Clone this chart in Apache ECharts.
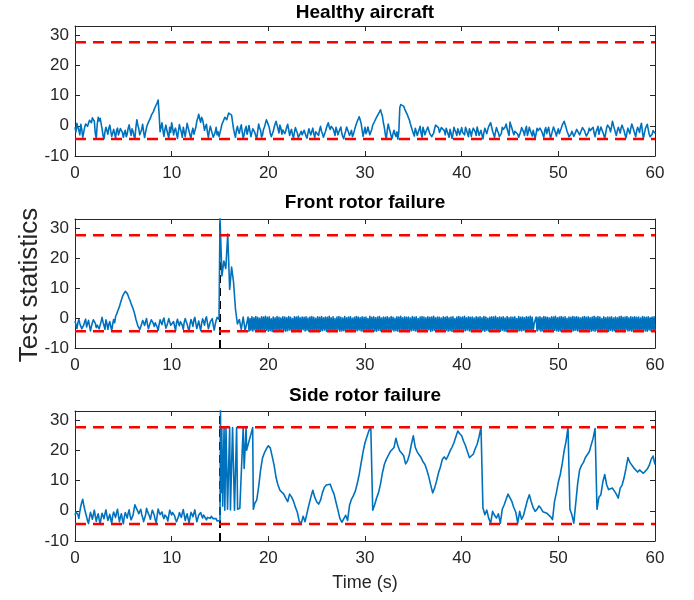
<!DOCTYPE html>
<html>
<head>
<meta charset="utf-8">
<script src="https://cdn.jsdelivr.net/npm/echarts@6.0.0/dist/echarts.min.js"></script>
<style>
  html, body { margin: 0; background: #fff; }
  #chart { width: 694px; height: 600px; }
</style>
</head>
<body>
<div id="chart"></div>
<script>
// panel titles and axis text
var titles = ['Healthy aircraft', 'Front rotor failure', 'Side rotor failure'];
var xTicks = [0, 10, 20, 30, 40, 50, 60];
var yTicks = [-10, 0, 10, 20, 30];
var timeSpan = [0, 60];
var yMax = 33;
var upperLimit = 27.6;
var lowerLimit = -4.4;
var failureTime = 15;

// healthy aircraft, 0..60 s every 0.1 s
var healthy = [
  -0.5,-2.0,0.8,-0.6,-1.5,-3.0,0.5,-1.2,-3.8,-2.2,
  -0.5,0.6,1.2,-0.2,0.8,1.8,2.2,1.0,2.6,2.0,
  1.5,-2.5,-4.2,0.5,2.8,1.6,2.5,0.8,-1.0,-3.2,
  -4.3,-2.0,-0.5,-1.6,-2.8,-0.8,0.2,-1.8,-3.5,-2.4,
  -1.2,-2.6,-4.0,-1.5,-0.8,-3.0,-2.5,-0.9,-0.3,-2.2,
  -3.8,-2.4,-1.5,-3.6,-2.8,-0.8,0.3,-1.6,-3.2,-1.0,
  -1.8,-3.4,-4.1,-0.5,2.0,0.2,-1.0,-3.0,-2.5,-1.2,
  0.5,-2.0,-3.9,-2.2,-0.6,0.4,1.2,1.8,2.5,3.5,
  4.0,4.6,5.5,6.2,6.8,7.6,8.5,4.0,-2.0,-0.5,
  1.0,-1.6,-3.5,-1.2,0.2,-1.5,-2.8,-4.0,-0.5,-2.2,
  1.0,-0.8,-3.0,-1.5,-0.8,-2.6,-4.2,-1.8,0.4,-1.0,
  -2.2,-3.8,-0.5,-2.0,-3.6,-1.4,0.8,-0.6,-1.8,-3.2,
  -4.0,-2.0,-0.8,-2.8,-3.2,-0.5,1.5,2.6,3.8,2.2,
  1.2,2.8,2.0,0.4,-1.5,-0.2,0.5,-2.2,-3.8,-1.6,
  -0.2,-1.4,-2.6,-3.8,-4.3,-2.2,-0.5,-3.0,-2.0,-3.6,
  -3.5,-1.0,0.5,1.2,1.8,2.8,2.5,2.0,3.2,4.2,
  4.8,4.0,3.5,1.2,-1.0,-2.6,-3.8,-1.4,-0.2,-1.8,
  -2.5,-0.8,0.3,-2.0,-4.2,-2.8,-1.2,-0.2,-2.8,-1.6,
  0.1,-1.8,-3.6,-2.2,-1.0,-0.4,-2.2,-3.4,-4.3,-1.8,
  0.6,-0.8,-1.5,-3.8,-3.0,-1.2,-0.4,0.8,2.0,1.2,
  0.8,-0.6,-2.5,-3.6,-4.2,-2.0,-0.5,0.6,1.5,0.2,
  -1.0,-2.4,0.2,-0.8,-2.8,-1.4,-0.8,-2.6,-1.8,-0.4,
  0.5,-1.2,-3.2,-2.0,-1.2,-3.0,-4.0,-2.2,-0.6,-1.6,
  -2.4,-3.8,-4.3,-2.6,-1.8,-3.0,-3.5,-1.5,-2.0,-3.4,
  -4.1,-2.4,-1.0,-2.2,-3.0,-1.8,-0.8,-2.6,-3.8,-2.0,
  -1.5,-2.6,-3.2,-1.4,-0.2,-1.8,-2.6,-3.8,-4.2,-2.0,
  -0.8,0.2,1.0,-0.4,-1.2,-0.2,0.4,-1.0,-2.0,-3.2,
  -0.5,-1.6,-3.0,-2.0,-1.2,-0.4,-2.5,-3.6,-4.3,-2.8,
  -1.8,-0.4,-0.6,-2.2,-3.2,-2.4,-1.5,-3.6,-2.8,-1.6,
  -0.4,0.6,1.5,2.2,3.0,2.0,0.8,-1.4,-3.5,-2.0,
  -0.5,-2.6,-1.8,-0.4,-0.8,-3.0,-2.5,-1.2,0.2,0.8,
  1.5,2.2,2.8,3.4,4.0,4.6,5.3,4.2,3.2,1.0,
  -0.5,-2.8,-4.3,-1.5,0.6,-0.8,-2.0,-3.4,-4.2,-2.6,
  -1.5,-2.8,-3.5,-2.0,-4.4,-2.0,6.0,7.0,7.5,7.2,
  6.5,5.6,5.0,4.2,3.5,2.6,1.8,0.6,-0.5,-1.6,
  -2.0,-3.4,-0.8,-1.8,-3.2,-2.2,-1.2,-0.2,-2.5,-3.8,
  -0.5,-1.6,-3.0,-2.0,-1.5,-0.4,-0.8,-2.6,-2.2,-3.6,
  -4.2,-2.4,-1.0,0.2,0.8,-0.4,-0.6,-2.2,-2.0,-0.6,
  -0.2,-1.2,-1.6,-3.0,-0.8,-1.8,-2.8,-3.8,-1.2,-2.4,
  -4.2,-2.8,-0.5,-1.4,-2.2,-3.2,-1.0,-0.4,-3.0,-1.8,
  -0.6,-2.2,-1.8,-3.0,-0.5,-1.4,-2.5,-3.6,-1.0,-2.0,
  -3.5,-1.8,-0.8,-0.2,-2.0,-3.2,-0.4,-1.6,-3.2,-2.4,
  -1.5,-3.0,-4.3,-2.2,-0.8,-1.8,-2.6,-1.2,-0.2,0.4,
  1.0,-0.4,-1.8,-2.8,-3.8,-2.0,-0.6,-1.6,-2.4,-3.6,
  -4.2,-2.6,-0.5,-1.2,-1.8,-0.4,0.6,-1.0,-2.2,-3.2,
  1.2,0.2,-0.8,-2.0,-3.0,-1.8,-1.2,-2.2,-2.8,-3.8,
  -4.3,-2.0,-0.6,-1.2,-2.0,-3.2,-1.2,-0.2,-3.2,-2.0,
  -0.5,-1.6,-2.5,-3.4,-1.5,-2.8,-4.2,-2.6,-0.8,-1.6,
  -2.2,-0.8,-0.4,-2.0,-3.0,-3.8,-1.5,-0.6,-2.6,-1.4,
  -0.5,-2.6,-4.1,-2.8,-1.6,-0.4,-0.8,-2.2,-3.4,-2.0,
  -1.0,-2.6,-2.0,-0.8,0.2,0.8,1.5,0.4,-0.6,-1.8,
  -2.6,-3.6,-4.2,-2.8,-1.8,-2.6,-3.5,-2.8,-2.2,-1.2,
  -0.6,-1.8,-3.0,-2.2,-1.4,-0.6,-0.3,-1.6,-2.6,-3.4,
  -4.0,-2.2,-0.8,-1.6,-2.2,-1.2,-0.5,-2.4,-3.6,-2.0,
  -1.2,-0.2,-2.8,-1.6,-0.4,-1.2,-1.8,-3.0,-4.2,-2.4,
  -0.6,0.2,0.8,-0.8,-2.0,-0.4,1.5,0.2,-1.0,-2.2,
  -3.2,-1.6,-0.5,-1.4,-2.4,-0.6,0.2,-0.8,-1.6,-3.0,
  -4.0,-2.2,-0.8,-1.8,-2.6,-0.8,0.6,-0.4,-1.4,-2.6,
  -3.6,-1.8,-0.5,-1.2,-2.2,-0.2,0.8,-2.0,-4.2,-2.6,
  -1.0,-0.2,0.5,-1.2,-2.8,-3.6,-4.0,-2.8,-1.6,-2.0,
  -2.5
];

// front rotor failure, 0..14.9 s every 0.1 s
var frontPre = [
  -1.0,-2.2,-3.5,-1.6,-0.5,-1.8,-2.8,-3.6,-4.2,-2.4,
  -1.2,-0.4,-3.0,-1.8,-0.8,-2.6,-4.3,-2.8,-1.5,-0.6,
  -0.3,-1.8,-3.2,-2.4,-1.8,-3.6,-4.2,-1.2,0.2,-1.4,
  -2.5,-3.8,-0.6,-1.8,-3.8,-2.2,-1.2,-2.8,-4.3,-2.0,
  -0.5,-1.6,0.5,1.2,2.2,3.0,3.8,5.0,6.0,7.0,
  7.8,8.2,8.9,8.6,8.2,7.4,6.5,5.8,4.8,4.0,
  3.2,2.2,1.0,-0.4,-1.5,-2.6,-3.2,-3.8,-4.2,-2.0,
  -0.8,-1.6,-2.5,-1.2,-0.2,-2.2,-3.6,-2.4,-1.4,-0.6,
  -0.4,-1.8,-2.8,-1.6,-1.0,-3.0,-4.1,-2.2,-0.6,-1.4,
  -2.2,-0.8,0.0,-1.8,-3.4,-2.6,-1.5,-0.2,-0.8,-2.4,
  -3.0,-2.0,-1.2,-2.8,-4.2,-1.6,-0.4,-1.8,-2.6,-1.2,
  -0.9,-2.4,-3.8,-1.4,-0.2,-1.2,-2.0,-3.4,-4.3,-2.0,
  -0.5,-1.6,-2.8,-0.6,0.2,-1.8,-3.5,-2.2,-1.0,-2.8,
  -4.2,-1.8,-0.3,-1.2,-2.4,-0.4,0.4,-1.6,-3.6,-2.4,
  -1.2,-0.6,-0.2,-2.4,-4.0,-2.2,-0.8,0.2,0.6,-0.5
];

// front rotor failure, 15.0..17.6 s every 0.2 s (the spike)
var frontSpike = [33.5,14.0,19.0,16.5,28.0,9.5,17.0,12.0,3.0,-2.0,-0.5,-3.8,0.3,-4.2];

// front rotor failure, 17.8..60 s every 0.1 s (dense oscillation)
var frontBand = [
  -4.2,0.3,-4.4,-0.2,-4.1,0.4,-4.3,0.1,-3.9,0.5,-4.4,0.2,-4.2,-0.1,-4.5,0.4,-4.0,0.3,-4.3,0.6,
  -4.1,0.2,-4.4,0.4,-4.2,-0.3,-4.5,0.3,-4.0,0.1,-4.3,0.5,-4.1,0.2,-4.4,0.0,-3.8,0.4,-4.2,0.3,
  -4.4,0.1,-4.2,0.5,-4.0,0.2,-4.3,-0.2,-4.5,0.4,-4.1,0.3,-4.4,0.6,-4.2,0.1,-4.3,0.3,-3.9,0.2,
  -4.3,0.4,-4.1,0.0,-4.4,0.3,-4.2,0.5,-4.5,0.2,-4.0,-0.1,-4.3,0.4,-4.1,0.2,-4.4,0.5,-4.2,0.1,
  -4.0,0.3,-4.4,0.2,-4.2,0.6,-4.3,0.1,-4.1,0.4,-4.5,-0.2,-4.2,0.3,-3.9,0.5,-4.4,0.2,-4.3,0.0,
  -4.2,0.5,-4.4,0.1,-4.0,0.3,-4.3,0.4,-4.5,-0.1,-4.1,0.2,-4.4,0.5,-4.2,0.3,-4.0,0.1,-4.3,0.4,
  -4.4,0.2,-4.1,0.3,-4.3,-0.2,-4.2,0.6,-4.5,0.2,-3.9,0.4,-4.3,0.1,-4.4,0.3,-4.1,0.5,-4.2,0.0,
  -4.3,0.3,-4.5,0.2,-4.1,0.4,-4.2,0.1,-4.4,0.5,-4.0,0.2,-4.3,-0.1,-4.2,0.4,-4.4,0.3,-4.1,0.6,
  -4.2,0.1,-4.3,0.4,-4.4,0.2,-4.0,0.3,-4.5,0.0,-4.2,0.5,-4.1,0.2,-4.3,0.4,-4.4,-0.2,-4.2,0.3,
  -4.1,0.5,-4.4,0.3,-4.2,0.1,-4.3,0.4,-3.9,0.2,-4.5,0.3,-4.2,0.6,-4.1,0.1,-4.4,0.3,-4.3,0.2,
  -4.4,0.0,-4.2,0.4,-4.3,0.2,-4.1,0.5,-4.4,0.1,-4.2,0.3,-4.5,0.4,-4.0,-0.2,-4.3,0.3,-4.2,0.5,
  -4.3,0.2,-4.1,0.3,-4.4,0.6,-4.2,0.1,-4.0,0.4,-4.3,0.2,-4.5,0.3,-4.1,0.0,-4.4,0.4,-4.2,0.2,
  -4.0,0.4,-4.3,0.1,-4.2,0.5,-4.4,0.3,-4.1,-0.1,-4.3,0.2,-4.2,0.4,-4.5,0.3,-3.9,0.6,-4.3,0.1,
  -4.2,0.3,-4.4,0.2,-4.1,0.4,-4.3,0.0,-4.5,0.5,-4.2,0.1,-4.0,0.3,-4.4,0.2,-4.3,0.4,-4.1,-0.2,
  -4.4,0.5,-4.2,0.2,-4.3,0.3,-4.1,0.1,-4.5,0.4,-4.2,0.3,-4.4,0.6,-4.1,0.2,-4.3,-1.8,-2.4,0.3,
  -4.3,0.2,-4.0,0.4,-4.4,0.1,-4.2,0.5,-4.3,0.3,-4.1,0.2,-4.5,0.0,-4.2,0.4,-4.4,0.3,-4.1,0.6,
  -4.2,0.1,-4.4,0.3,-4.3,0.5,-4.0,0.2,-4.2,0.4,-4.5,-0.1,-4.1,0.3,-4.3,0.2,-4.4,0.5,-4.2,0.3,
  -4.1,0.4,-4.3,0.2,-4.4,0.0,-4.2,0.3,-4.5,0.5,-4.1,0.2,-4.3,0.4,-4.0,0.1,-4.4,0.3,-4.2,0.6,
  -4.4,0.2,-4.1,0.5,-4.3,0.3,-4.2,-0.2,-4.4,0.4,-4.0,0.1,-4.3,0.3,-4.5,0.2,-4.1,0.4,-4.3,0.0,
  -4.2,0.3,-4.5,0.1,-4.1,0.4,-4.3,0.6,-4.2,0.2,-4.4,0.3,-3.9,0.5,-4.3,0.1,-4.2,0.4,-4.4,0.2,
  -4.3,0.4,-4.1,0.2,-4.4,0.3,-4.2,0.0,-4.5,0.5,-4.1,0.3,-4.3,0.2,-4.4,0.4,-4.0,0.1,-4.3,0.3,
  -4.2,0.4,-4.4
];

// side rotor failure, 0..14.9 s every 0.1 s
var sidePre = [
  -1.5,-0.4,0.2,-1.2,-2.5,-0.2,1.5,2.8,3.8,2.0,
  0.5,-0.8,-2.0,-3.4,-4.2,-2.2,-0.5,-1.6,-2.8,-1.2,
  0.2,-1.8,-3.5,-2.0,-1.0,-2.8,-4.3,-2.4,-0.8,-1.4,
  -2.6,-1.0,0.3,-1.6,-3.2,-2.2,-1.2,-2.8,-4.2,-1.6,
  -0.4,-1.4,-2.2,-0.6,0.5,-1.8,-3.6,-2.0,-1.0,-2.8,
  -4.3,-2.0,-0.6,-1.4,-2.4,-0.8,0.3,-1.6,-3.0,-2.2,
  -1.5,0.4,2.0,1.2,0.8,-0.2,-1.0,-0.4,0.5,-1.2,
  -2.2,-3.6,-4.2,-1.4,0.8,-0.2,-0.5,-1.8,-2.8,-1.2,
  0.2,-0.6,-1.5,-3.0,-4.0,-1.6,0.6,-0.4,-1.2,-0.8,
  -0.4,-1.8,-2.6,-1.4,-0.8,-2.2,-3.4,-1.6,0.2,-0.6,
  -1.4,-0.6,-0.2,-1.6,-2.8,-3.6,-4.2,-2.0,-0.6,-1.2,
  -2.2,-0.8,0.4,-1.4,-3.2,-2.0,-1.0,-2.6,-4.1,-2.2,
  -0.5,-1.2,-2.0,-0.8,0.3,-1.8,-3.6,-2.6,-1.4,-0.8,
  -0.6,-1.6,-2.4,-1.4,-0.8,-2.0,-3.0,-2.2,-1.8,-2.8,
  -2.5,-1.8,-1.5,-2.6,-3.2,-2.8,-2.6,-3.4,-3.6,-3.0
];

// side rotor failure, burst right after the failure (irregular times)
var sideBurstT = [15.0,15.05,15.1,15.18,15.28,15.42,15.5,15.62,15.78,16.0,16.08,16.3,16.5,16.72,16.82,17.05,17.4,17.5,17.7,17.75,18.38,18.45,18.6];
var sideBurstV = [-3.2,33.5,6.0,27.5,1.5,27.5,0.2,27.5,0.5,27.5,0.3,27.5,0.2,27.5,0.5,0.8,27.5,14.0,27.5,20.0,27.5,0.5,2.5];

// side rotor failure, 18.8..60 s every 0.2 s
var sidePost = [
  3.5,8.0,13.5,17.5,19.2,20.5,21.5,20.8,18.0,15.0,
  11.0,8.5,6.8,7.2,5.5,4.2,3.0,5.5,4.6,3.2,
  1.2,-0.5,-3.5,-4.2,-1.8,-3.6,-4.2,2.0,4.5,6.8,
  4.5,3.0,2.2,3.5,6.0,7.8,8.5,8.2,8.8,7.0,
  5.5,2.8,0.2,-2.5,-3.8,-4.3,-1.5,-3.2,1.8,3.8,
  5.0,6.5,9.0,12.0,15.8,19.5,22.5,24.5,26.5,27.6,
  0.2,2.0,4.2,6.0,8.8,12.5,15.3,17.0,18.2,19.5,
  20.0,20.9,24.0,21.5,19.8,19.0,18.2,15.5,16.5,18.7,
  22.0,24.8,21.0,19.5,18.5,17.6,16.2,15.3,13.5,11.2,
  8.5,5.9,7.5,9.8,12.5,14.5,17.0,17.8,17.0,18.2,
  19.8,21.0,22.5,24.5,26.4,25.5,24.8,23.0,21.5,19.5,
  17.6,18.0,18.7,20.5,22.0,24.5,27.6,1.0,-1.3,0.2,
  -2.5,-4.1,-0.2,-1.5,-2.4,-1.0,-4.1,0.5,2.0,3.8,
  5.5,5.0,3.0,1.0,-0.5,-4.1,-0.2,-2.8,-1.5,1.0,
  3.5,5.3,3.0,1.0,-0.2,0.5,1.6,0.8,-0.3,0.2,
  -0.8,-1.3,-2.0,-2.9,3.0,6.0,9.5,12.0,15.5,19.8,
  23.0,27.6,0.5,-1.3,-4.1,2.5,9.0,13.5,15.0,16.0,
  17.6,18.2,19.5,21.8,24.0,27.2,0.5,4.5,5.3,9.5,
  12.0,8.6,7.0,6.4,7.5,8.0,5.5,4.2,7.5,8.5,
  10.9,14.0,17.6,16.0,15.5,14.2,14.8,12.8,13.5,13.7,
  12.4,12.6,13.8,15.0,17.0,18.1,15.3
];

function timed(values, t0, step) {
  return values.map(function (v, i) { return [+(t0 + i * step).toFixed(2), v]; });
}

var panels = [
  timed(healthy, 0, 0.1),
  timed(frontPre, 0, 0.1)
    .concat(timed(frontSpike, 15.0, 0.2))
    .concat(timed(frontBand, 17.8, 0.1)),
  timed(sidePre, 0, 0.1)
    .concat(sideBurstT.map(function (t, i) { return [t, sideBurstV[i]]; }))
    .concat(timed(sidePost, 18.8, 0.2))
];

var font = '"Liberation Sans", Arial, sans-serif';
var ink = '#262626';
var gridTops = [26, 219, 411];
var gridHeights = [130, 129, 130];

var grids = [], xAxes = [], yAxes = [], series = [], graphics = [];

panels.forEach(function (data, i) {
  grids.push({ left: 75, top: gridTops[i], width: 580, height: gridHeights[i] });

  ['bottom', 'top'].forEach(function (pos) {
    xAxes.push({
      gridIndex: i, type: 'value', position: pos,
      min: timeSpan[0], max: timeSpan[1], interval: 10,
      axisLine: { show: true, onZero: false, lineStyle: { color: ink, width: 1 } },
      axisTick: { show: true, inside: true, length: 5, lineStyle: { color: ink } },
      splitLine: { show: false },
      axisLabel: {
        show: pos === 'bottom', color: ink, fontSize: 17, fontFamily: font, margin: 9,
        formatter: function (v) { return xTicks.indexOf(v) >= 0 ? String(v) : ''; }
      }
    });
  });
  ['left', 'right'].forEach(function (pos) {
    yAxes.push({
      gridIndex: i, type: 'value', position: pos,
      min: -10, max: yMax, interval: 10,
      axisLine: { show: true, onZero: false, lineStyle: { color: ink, width: 1 } },
      axisTick: { show: true, inside: true, length: 5, lineStyle: { color: ink } },
      splitLine: { show: false },
      axisLabel: {
        show: pos === 'left', color: ink, fontSize: 17, fontFamily: font, margin: 6,
        showMaxLabel: false,
        formatter: function (v) { return yTicks.indexOf(v) >= 0 ? String(v) : ''; }
      }
    });
  });

  var ax = i * 2;
  if (i > 0) {
    series.push({
      type: 'line', xAxisIndex: ax, yAxisIndex: ax, z: 2,
      data: [[failureTime, -10], [failureTime, yMax]],
      symbol: 'none', silent: true,
      lineStyle: { color: '#000', width: 2, type: [8, 5] }
    });
  }
  series.push({
    type: 'line', xAxisIndex: ax, yAxisIndex: ax, z: 3,
    data: data, symbol: 'none', showSymbol: false, silent: true,
    lineStyle: { color: '#0072BD', width: 1.6, join: 'round' }
  });
  [upperLimit, lowerLimit].forEach(function (lim) {
    series.push({
      type: 'line', xAxisIndex: ax, yAxisIndex: ax, z: 4,
      data: [[timeSpan[0], lim], [timeSpan[1], lim]],
      symbol: 'none', silent: true,
      lineStyle: { color: '#ff0000', width: 2.5, type: [11, 7] }
    });
  });

  graphics.push({
    type: 'text', x: 365, y: [13, 203, 396][i],
    style: { text: titles[i], fill: '#000', fontSize: 19, fontWeight: 'bold', fontFamily: font, align: 'center', verticalAlign: 'middle' }
  });
});

graphics.push({
  type: 'text', x: 30, y: 285, rotation: Math.PI / 2,
  style: { text: 'Test statistics', fill: ink, fontSize: 26, fontFamily: font, align: 'center', verticalAlign: 'middle' }
});
graphics.push({
  type: 'text', x: 365, y: 583,
  style: { text: 'Time (s)', fill: ink, fontSize: 18, fontFamily: font, align: 'center', verticalAlign: 'middle' }
});

var chart = echarts.init(document.getElementById('chart'), null, { renderer: 'canvas' });
chart.setOption({
  animation: false,
  backgroundColor: '#fff',
  grid: grids,
  xAxis: xAxes,
  yAxis: yAxes,
  series: series,
  graphic: graphics
});
</script>
</body>
</html>
